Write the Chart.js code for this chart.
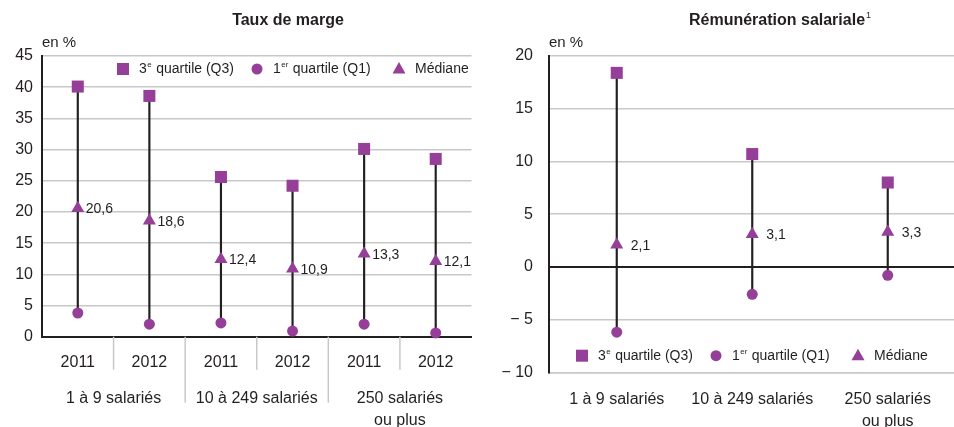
<!DOCTYPE html>
<html>
<head>
<meta charset="utf-8">
<script src="https://cdn.jsdelivr.net/npm/chart.js@4"></script>
<style>
  html, body { margin: 0; padding: 0; background: #fff; overflow: hidden; }
  #wrap { position: relative; width: 954px; height: 427px; overflow: hidden; }
  #gauche { position: absolute; left: 0; top: 0; }
  #droite { position: absolute; left: 474px; top: 0; }
</style>
</head>
<body>
<div id="wrap">
  <canvas id="gauche" width="480" height="427"></canvas>
  <canvas id="droite" width="490" height="427"></canvas>
</div>
<script>
// --- données : taux de marge ---
const annees = ["2011", "2012", "2011", "2012", "2011", "2012"];
const groupes = [["1 à 9 salariés"], ["10 à 249 salariés"], ["250 salariés", "ou plus"]];
const margeQ3 = [40.1, 38.6, 25.6, 24.2, 30.1, 28.5];
const margeMediane = [20.6, 18.6, 12.4, 10.9, 13.3, 12.1];
const margeQ1 = [3.8, 2.0, 2.2, 0.9, 2.0, 0.6];
const margeTicks = [0, 5, 10, 15, 20, 25, 30, 35, 40, 45];

// --- données : rémunération salariale ---
const tailles = [["1 à 9 salariés"], ["10 à 249 salariés"], ["250 salariés", "ou plus"]];
const remuQ3 = [18.4, 10.7, 8.0];
const remuMediane = [2.1, 3.1, 3.3];
const remuQ1 = [-6.2, -2.6, -0.8];
const remuTicks = [-10, -5, 0, 5, 10, 15, 20];

const violet = '#953f98';
const texte = '#231f20';
const gris = '#c8c8c8';
const police = "'Liberation Sans', Arial, sans-serif";

const virgule = v => v.toFixed(1).replace('.', ',');

// dessine un symbole de légende
function symbole(ctx, style, x, y) {
  ctx.fillStyle = violet;
  ctx.beginPath();
  if (style === 'rect') {
    ctx.rect(x - 6, y - 6, 12, 12);
  } else if (style === 'circle') {
    ctx.arc(x, y, 5.5, 0, Math.PI * 2);
  } else {
    ctx.moveTo(x, y - 7);
    ctx.lineTo(x + 6.5, y + 4.5);
    ctx.lineTo(x - 6.5, y + 4.5);
    ctx.closePath();
  }
  ctx.fill();
}

// texte avec exposant : [normal, exposant, suite]
function texteExposant(ctx, parts, x, y, taille) {
  ctx.textAlign = 'left';
  ctx.textBaseline = 'middle';
  ctx.font = taille + 'px ' + police;
  ctx.fillText(parts[0], x, y);
  x += ctx.measureText(parts[0]).width;
  if (parts[1]) {
    ctx.font = Math.round(taille * 0.55) + 'px ' + police;
    ctx.fillText(parts[1], x + 0.5, y - taille * 0.3);
    x += ctx.measureText(parts[1]).width + 1;
  }
  ctx.font = taille + 'px ' + police;
  ctx.fillText(parts[2], x, y);
}

const deco = {
  id: 'deco',
  afterDatasetsDraw(chart, args, o) {
    const ctx = chart.ctx;
    ctx.save();
    ctx.fillStyle = texte;
    // étiquettes de la médiane
    const meta = chart.getDatasetMeta(o.medianeIndex);
    ctx.font = '14px ' + police;
    ctx.textAlign = 'left';
    ctx.textBaseline = 'middle';
    meta.data.forEach((pt, i) => {
      ctx.fillText(virgule(chart.data.datasets[o.medianeIndex].data[i]), pt.x + o.decal, pt.y + 1);
    });
    ctx.restore();
  },
  afterDraw(chart, args, o) {
    const ctx = chart.ctx;
    ctx.save();
    ctx.fillStyle = texte;
    // titre
    ctx.font = 'bold 16px ' + police;
    const w1 = ctx.measureText(o.titre).width;
    ctx.font = '9px ' + police;
    const w2 = o.exposant ? ctx.measureText(o.exposant).width + 1 : 0;
    let tx = o.titreX - (w1 + w2) / 2;
    ctx.font = 'bold 16px ' + police;
    ctx.textAlign = 'left';
    ctx.textBaseline = 'middle';
    ctx.fillText(o.titre, tx, 21);
    if (o.exposant) {
      ctx.font = '9px ' + police;
      ctx.fillText(o.exposant, tx + w1 + 1, 16);
    }
    // unité
    ctx.font = '15px ' + police;
    ctx.fillText('en %', chart.chartArea.left, 43);
    // légende
    const items = [
      ['rect', ['3', 'e', ' quartile (Q3)']],
      ['circle', ['1', 'er', ' quartile (Q1)']],
      ['triangle', ['Médiane', '', '']]
    ];
    items.forEach((it, i) => {
      symbole(ctx, it[0], o.legendeX[i], o.legendeY);
      ctx.fillStyle = texte;
      texteExposant(ctx, it[1], o.legendeX[i] + 16, o.legendeY, 14);
    });
    // séparateurs et groupes (axe à deux niveaux)
    if (o.groupes) {
      const xs = chart.scales.x;
      const bas = chart.chartArea.bottom;
      ctx.strokeStyle = gris;
      ctx.lineWidth = 1.5;
      for (let i = 0; i < xs.ticks.length - 1; i++) {
        const sx = (xs.getPixelForTick(i) + xs.getPixelForTick(i + 1)) / 2;
        const long = (i % 2 === 1) ? 66 : 33;
        ctx.beginPath();
        ctx.moveTo(sx, bas);
        ctx.lineTo(sx, bas + long);
        ctx.stroke();
      }
      ctx.fillStyle = texte;
      ctx.font = '16px ' + police;
      ctx.textAlign = 'center';
      ctx.textBaseline = 'middle';
      o.groupes.forEach((g, j) => {
        const cx = (xs.getPixelForTick(2 * j) + xs.getPixelForTick(2 * j + 1)) / 2;
        g.forEach((ligne, k) => ctx.fillText(ligne, cx, 399 + k * 22));
      });
    }
    ctx.restore();
  }
};

function jeux(q3, med, q1) {
  return [
    { type: 'line', label: '3e quartile (Q3)', data: q3, showLine: false, pointStyle: 'rect',
      pointRadius: 8.5, pointHoverRadius: 8.5, backgroundColor: violet, borderWidth: 0, order: 1, clip: false },
    { type: 'line', label: '1er quartile (Q1)', data: q1, showLine: false, pointStyle: 'circle',
      pointRadius: 5.5, pointHoverRadius: 5.5, backgroundColor: violet, borderWidth: 0, order: 2, clip: false },
    { type: 'line', label: 'Médiane', data: med, showLine: false, pointStyle: 'triangle',
      pointRadius: 7.5, pointHoverRadius: 7.5, backgroundColor: violet, borderWidth: 0, order: 3, clip: false },
    { type: 'bar', label: 'intervalle', data: q1.map((v, i) => [v, q3[i]]),
      backgroundColor: texte, barThickness: 1.5, order: 10 }
  ];
}

const tickFont = { family: police, size: 16 };

new Chart(document.getElementById('gauche'), {
  type: 'bar',
  data: { labels: annees, datasets: jeux(margeQ3, margeMediane, margeQ1) },
  options: {
    responsive: false,
    animation: false,
    events: [],
    layout: { padding: { top: 56, right: 7, left: 0, bottom: 0 } },
    plugins: {
      legend: { display: false },
      tooltip: { enabled: false },
      deco: {
        titre: 'Taux de marge', exposant: '', titreX: 288,
        medianeIndex: 2, decal: 8,
        legendeX: [123, 257, 399], legendeY: 69,
        groupes: groupes
      }
    },
    scales: {
      x: {
        offset: true,
        grid: { display: false, drawTicks: false },
        border: { display: true, color: texte, width: 2 },
        ticks: { color: texte, font: tickFont, padding: 16, maxRotation: 0, autoSkip: false },
        afterFit: s => { s.height = 90.3; }
      },
      y: {
        min: 0, max: 45,
        afterBuildTicks: s => { s.ticks = margeTicks.map(v => ({ value: v })); },
        grid: { color: gris, lineWidth: 1.5, drawTicks: false },
        border: { display: true, color: texte, width: 2 },
        ticks: { color: texte, font: tickFont, padding: 9 },
        afterFit: s => { s.width = 42; }
      }
    }
  },
  plugins: [deco]
});

new Chart(document.getElementById('droite'), {
  type: 'bar',
  data: { labels: tailles, datasets: jeux(remuQ3, remuMediane, remuQ1) },
  options: {
    responsive: false,
    animation: false,
    events: [],
    layout: { padding: { top: 56, right: 2, left: 0, bottom: 0 } },
    plugins: {
      legend: { display: false },
      tooltip: { enabled: false },
      deco: {
        titre: 'Rémunération salariale', exposant: '1', titreX: 306,
        medianeIndex: 2, decal: 14,
        legendeX: [108, 242, 384], legendeY: 355.7
      }
    },
    scales: {
      x: {
        offset: true,
        grid: { display: false, drawTicks: false },
        border: { display: true, color: gris, width: 1.5 },
        ticks: { color: texte, font: { family: police, size: 16, lineHeight: 1.375 }, padding: 16, maxRotation: 0, autoSkip: false },
        afterFit: s => { s.height = 54.7; }
      },
      y: {
        min: -10, max: 20,
        afterBuildTicks: s => { s.ticks = remuTicks.map(v => ({ value: v })); },
        grid: {
          color: c => (c.tick && c.tick.value === 0) ? texte : gris,
          lineWidth: c => (c.tick && c.tick.value === 0) ? 2 : 1.5,
          drawTicks: false
        },
        border: { display: true, color: texte, width: 2 },
        ticks: {
          color: texte, font: tickFont, padding: 16,
          callback: v => v < 0 ? '\u2212 ' + Math.abs(v) : String(v)
        },
        afterFit: s => { s.width = 75; }
      }
    }
  },
  plugins: [deco]
});
</script>
</body>
</html>
